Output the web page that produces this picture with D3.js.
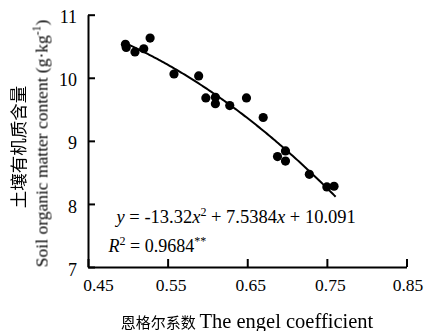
<!DOCTYPE html>
<html>
<head>
<meta charset="utf-8">
<script src="https://cdn.jsdelivr.net/npm/d3@7"></script>
<style>
  html, body { margin: 0; padding: 0; background: #fff; }
  svg { display: block; }
  text { font-family: "Liberation Serif", "Times New Roman", "Noto Sans CJK SC", serif; fill: #000; }
</style>
</head>
<body>
<svg id="chart" width="424" height="331">
  <defs>
    <filter id="gray" x="-5%" y="-5%" width="110%" height="110%">
      <feColorMatrix type="saturate" values="0"/>
    </filter>
  </defs>
</svg>
<script>
// Engel coefficient vs. soil organic matter content
const engel = [0.497, 0.498, 0.509, 0.520, 0.528, 0.558, 0.589, 0.598, 0.610, 0.610,
               0.628, 0.649, 0.670, 0.688, 0.698, 0.698, 0.728, 0.750, 0.759];
const som   = [10.53, 10.48, 10.41, 10.46, 10.63, 10.06, 10.03, 9.68, 9.69, 9.59,
               9.56, 9.68, 9.37, 8.75, 8.84, 8.68, 8.47, 8.27, 8.28];

const xTicks = [0.45, 0.55, 0.65, 0.75, 0.85];
const yTicks = [7, 8, 9, 10, 11];

// Quadratic fit: y = a x^2 + b x + c
const fitCoef = [-13.32, 7.5384, 10.091];
const fitRange = [0.501, 0.761];

const svg = d3.select("#chart");
const x = d3.scaleLinear().domain([0.45, 0.85]).range([88, 406.5]);
const y = d3.scaleLinear().domain([7, 11]).range([267, 14.7]);

// Axes with inward ticks
const gx = svg.append("g").attr("transform", `translate(0,${y(7)})`)
  .call(d3.axisBottom(x).tickValues(xTicks).tickFormat(d3.format(".2f"))
    .tickSizeInner(-8).tickSizeOuter(0).tickPadding(12));
const gy = svg.append("g").attr("transform", `translate(${x(0.45)},0)`)
  .call(d3.axisLeft(y).tickValues(yTicks).tickFormat(d3.format("d"))
    .tickSizeInner(-7).tickSizeOuter(0).tickPadding(11));
[gx, gy].forEach(g => {
  g.select(".domain").attr("stroke", "#000").attr("stroke-width", 2);
  g.selectAll(".tick line").attr("stroke", "#000").attr("stroke-width", 2);
  g.selectAll(".tick text").attr("font-size", 18);
});
gy.selectAll(".tick text").attr("dy", "0.45em");
// labels sit a little right of their ticks; the first one clears the y axis
gx.selectAll(".tick text").attr("font-size", 17.5)
  .attr("x", (d, i) => i === 0 ? 10 : (i === xTicks.length - 1 ? 1 : 3));

// Fitted curve
const fx = d3.range(fitRange[0], fitRange[1] + 1e-9, 0.002);
const fit = v => fitCoef[0] * v * v + fitCoef[1] * v + fitCoef[2];
svg.append("path")
  .datum(fx)
  .attr("fill", "none").attr("stroke", "#000").attr("stroke-width", 2)
  .attr("d", d3.line().x(d => x(d)).y(d => y(fit(d))));

// Observations
svg.append("g").selectAll("circle")
  .data(engel.map((e, i) => [e, som[i]]))
  .join("circle")
  .attr("cx", d => x(d[0])).attr("cy", d => y(d[1]))
  .attr("r", 4.6).attr("fill", "#000");

// Equation and R²
const eq = svg.append("text").attr("x", 116.5).attr("y", 222.5).attr("font-size", 18.5);
eq.append("tspan").attr("font-style", "italic").text("y");
eq.append("tspan").text(" = -13.32");
eq.append("tspan").attr("font-style", "italic").text("x");
eq.append("tspan").attr("font-size", 12).attr("dy", -7).text("2");
eq.append("tspan").attr("dy", 7).text(" + 7.5384");
eq.append("tspan").attr("font-style", "italic").text("x");
eq.append("tspan").text(" + 10.091");

const r2 = svg.append("text").attr("x", 108.5).attr("y", 251.5).attr("font-size", 18);
r2.append("tspan").attr("font-style", "italic").text("R");
r2.append("tspan").attr("font-size", 12).attr("dy", -7).text("2");
r2.append("tspan").attr("dy", 7).text(" = 0.9684");
r2.append("tspan").attr("font-size", 12).attr("dy", -7).text("**");

// Axis titles
const xt = svg.append("text")
  .attr("x", 247).attr("y", 328).attr("text-anchor", "middle").attr("filter", "url(#gray)");
xt.append("tspan").attr("font-size", 15).text("恩格尔系数 ");
xt.append("tspan").attr("font-size", 20.5).text("The engel coefficient");

svg.append("text")
  .attr("transform", "translate(25,147) rotate(-90)")
  .attr("text-anchor", "middle").attr("font-size", 17.5).attr("filter", "url(#gray)")
  .text("土壤有机质含量");

const yt = svg.append("text")
  .attr("transform", "translate(47.5,143.5) rotate(-90)")
  .attr("text-anchor", "middle").attr("font-size", 17.5).attr("filter", "url(#gray)");
yt.append("tspan").text("Soil organic matter content (g·kg");
yt.append("tspan").attr("font-size", 11.5).attr("dy", -7).text("-1");
yt.append("tspan").attr("dy", 7).text(")");
</script>
</body>
</html>
